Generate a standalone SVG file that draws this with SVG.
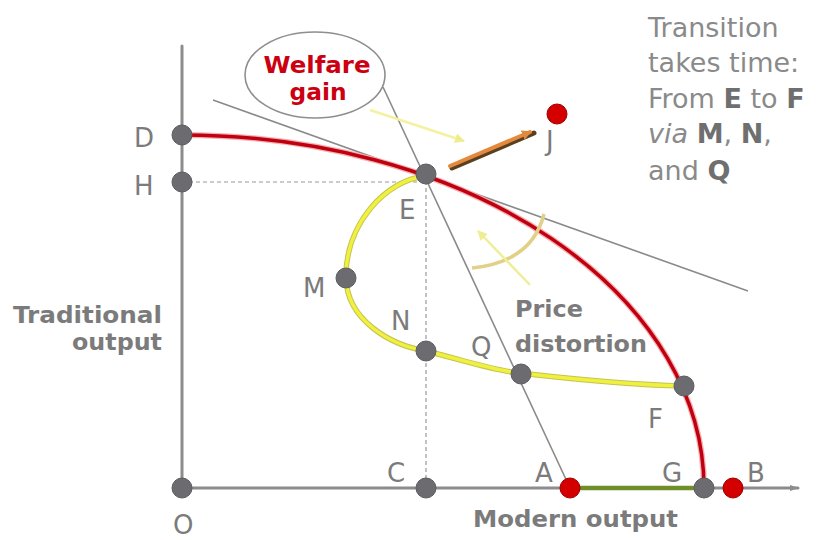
<svg xmlns="http://www.w3.org/2000/svg" width="823" height="540" viewBox="0 0 823 540">
<style>
.lbl{font-family:"DejaVu Sans",Verdana,sans-serif;font-size:26px;fill:#7b7b7b}
.bl{font-family:"DejaVu Sans",Verdana,sans-serif;font-size:23px;font-weight:bold;fill:#7b7b7b}
.tr{font-family:"DejaVu Sans",Verdana,sans-serif;font-size:27px;fill:#8a8a8a}
.b{font-weight:bold;fill:#6f6f6f}
.dot{fill:#6c6c70;stroke:#5c5c60;stroke-width:1}
.rdot{fill:#d40000;stroke:#a00000;stroke-width:1}
.axis{stroke:#8c8c8c;stroke-width:3;fill:none;stroke-linecap:round}
.thin{stroke:#8a8a8a;stroke-width:1.6;fill:none}
.dash{stroke:#9a9a9a;stroke-width:1.2;stroke-dasharray:4 3;fill:none}
</style>
<defs>
<marker id="ax" markerWidth="10" markerHeight="8" refX="8" refY="4" orient="auto" markerUnits="userSpaceOnUse">
<path d="M0,1 L9,4 L0,7 Z" fill="#8c8c8c"/>
</marker>
<marker id="ya" markerWidth="12" markerHeight="12" refX="9" refY="6" orient="auto" markerUnits="userSpaceOnUse">
<path d="M0,1 L10,6 L0,11 Z" fill="#eeee90"/>
</marker>
<marker id="oa" markerWidth="12" markerHeight="12" refX="8" refY="6" orient="auto" markerUnits="userSpaceOnUse">
<path d="M0,1 L10,6 L0,11 Z" fill="#e08a40"/>
</marker>
</defs>
<rect width="823" height="540" fill="#ffffff"/>

<g id="connectors">
<line class="axis" x1="182" y1="46" x2="182" y2="488"/>
<line class="axis" x1="182" y1="488" x2="798" y2="488" stroke-width="2.5" marker-end="url(#ax)"/>
<line class="dash" x1="182" y1="182" x2="426" y2="182"/>
<line class="dash" x1="426" y1="174" x2="426" y2="488"/>
<line class="thin" x1="213" y1="100" x2="748" y2="291"/>
<line class="thin" x1="383" y1="87" x2="570" y2="488"/>
<line x1="570" y1="488" x2="704" y2="488" stroke="#6f8f2a" stroke-width="4.5"/>
<path d="M182,135 A522,353 0 0 1 704,488" fill="none" stroke="#f4b0b0" stroke-width="6"/>
<path d="M182,135 A522,353 0 0 1 704,488" fill="none" stroke="#c00010" stroke-width="3.5"/>
<path d="M426,176 C385,180 345,225 346,278 C347,320 390,345 426,351 C470,362 500,372 520,373 C580,380 640,385 684,386" fill="none" stroke="#c4c450" stroke-width="5.5"/>
<path d="M426,176 C385,180 345,225 346,278 C347,320 390,345 426,351 C470,362 500,372 520,373 C580,380 640,385 684,386" fill="none" stroke="#f0f040" stroke-width="3.5"/>
<line x1="370" y1="110" x2="464" y2="141" stroke="#f2f2a0" stroke-width="2.5" marker-end="url(#ya)"/>
<line x1="452" y1="168" x2="534" y2="133" stroke="#5a4020" stroke-width="5" stroke-linecap="round"/>
<line x1="450" y1="166" x2="530" y2="132" stroke="#e58a3c" stroke-width="4" stroke-linecap="round" marker-end="url(#oa)"/>
<path d="M472,268 Q532,262 544,214" fill="none" stroke="#e2d088" stroke-width="3.5"/>
<line x1="530" y1="285" x2="478" y2="231" stroke="#eeee9a" stroke-width="2.5" marker-end="url(#ya)"/>
</g>

<g id="welfare-gain">
<ellipse cx="315" cy="75" rx="70" ry="43" fill="#ffffff" stroke="#8e8e8e" stroke-width="1.6"/>
<text x="317" y="73" text-anchor="middle" font-family="DejaVu Sans,Verdana,sans-serif" font-size="23" font-weight="bold" fill="#cc0010" textLength="107" lengthAdjust="spacingAndGlyphs">Welfare</text>
<text x="318" y="100" text-anchor="middle" font-family="DejaVu Sans,Verdana,sans-serif" font-size="23" font-weight="bold" fill="#cc0010" textLength="57" lengthAdjust="spacingAndGlyphs">gain</text>
</g>

<g id="O"><circle class="dot" cx="182" cy="488" r="10"/><text class="lbl" x="173" y="534">O</text></g>
<g id="D"><circle class="dot" cx="182" cy="135" r="10"/><text class="lbl" x="134" y="147">D</text></g>
<g id="H"><circle class="dot" cx="182" cy="182" r="10"/><text class="lbl" x="134" y="195">H</text></g>
<g id="E"><circle class="dot" cx="426" cy="174" r="10"/><text class="lbl" x="399" y="219">E</text></g>
<g id="M"><circle class="dot" cx="346" cy="278" r="10"/><text class="lbl" x="303" y="297">M</text></g>
<g id="N"><circle class="dot" cx="426" cy="351" r="10"/><text class="lbl" x="391" y="330">N</text></g>
<g id="Q"><circle class="dot" cx="521" cy="374" r="10"/><text class="lbl" x="471" y="356">Q</text></g>
<g id="F"><circle class="dot" cx="684" cy="386" r="10"/><text class="lbl" x="648" y="428">F</text></g>
<g id="C"><circle class="dot" cx="426" cy="488" r="10"/><text class="lbl" x="387" y="482">C</text></g>
<g id="A"><circle class="rdot" cx="570" cy="488" r="10"/><text class="lbl" x="535" y="482">A</text></g>
<g id="G"><circle class="dot" cx="704" cy="488" r="10"/><text class="lbl" x="662" y="482">G</text></g>
<g id="B"><circle class="rdot" cx="733" cy="488" r="10"/><text class="lbl" x="747" y="482">B</text></g>
<g id="J"><circle class="rdot" cx="557" cy="114" r="10"/><text class="lbl" x="546" y="150">J</text></g>

<g id="axis-labels">
<text class="bl" x="162" y="323" text-anchor="end" textLength="149" lengthAdjust="spacingAndGlyphs">Traditional</text>
<text class="bl" x="162" y="350" text-anchor="end" textLength="90" lengthAdjust="spacingAndGlyphs">output</text>
<text class="bl" x="473" y="527" textLength="205" lengthAdjust="spacingAndGlyphs">Modern output</text>
<text class="bl" x="515" y="317" textLength="68" lengthAdjust="spacingAndGlyphs">Price</text>
<text class="bl" x="515" y="352" textLength="132" lengthAdjust="spacingAndGlyphs">distortion</text>
</g>

<g id="note">
<text class="tr" x="648" y="37">Transition</text>
<text class="tr" x="648" y="72">takes time:</text>
<text class="tr" x="648" y="108">From <tspan class="b">E</tspan> to <tspan class="b">F</tspan></text>
<text class="tr" x="648" y="143"><tspan font-style="italic">via</tspan> <tspan class="b">M</tspan>, <tspan class="b">N</tspan>,</text>
<text class="tr" x="648" y="180">and <tspan class="b">Q</tspan></text>
</g>
</svg>
